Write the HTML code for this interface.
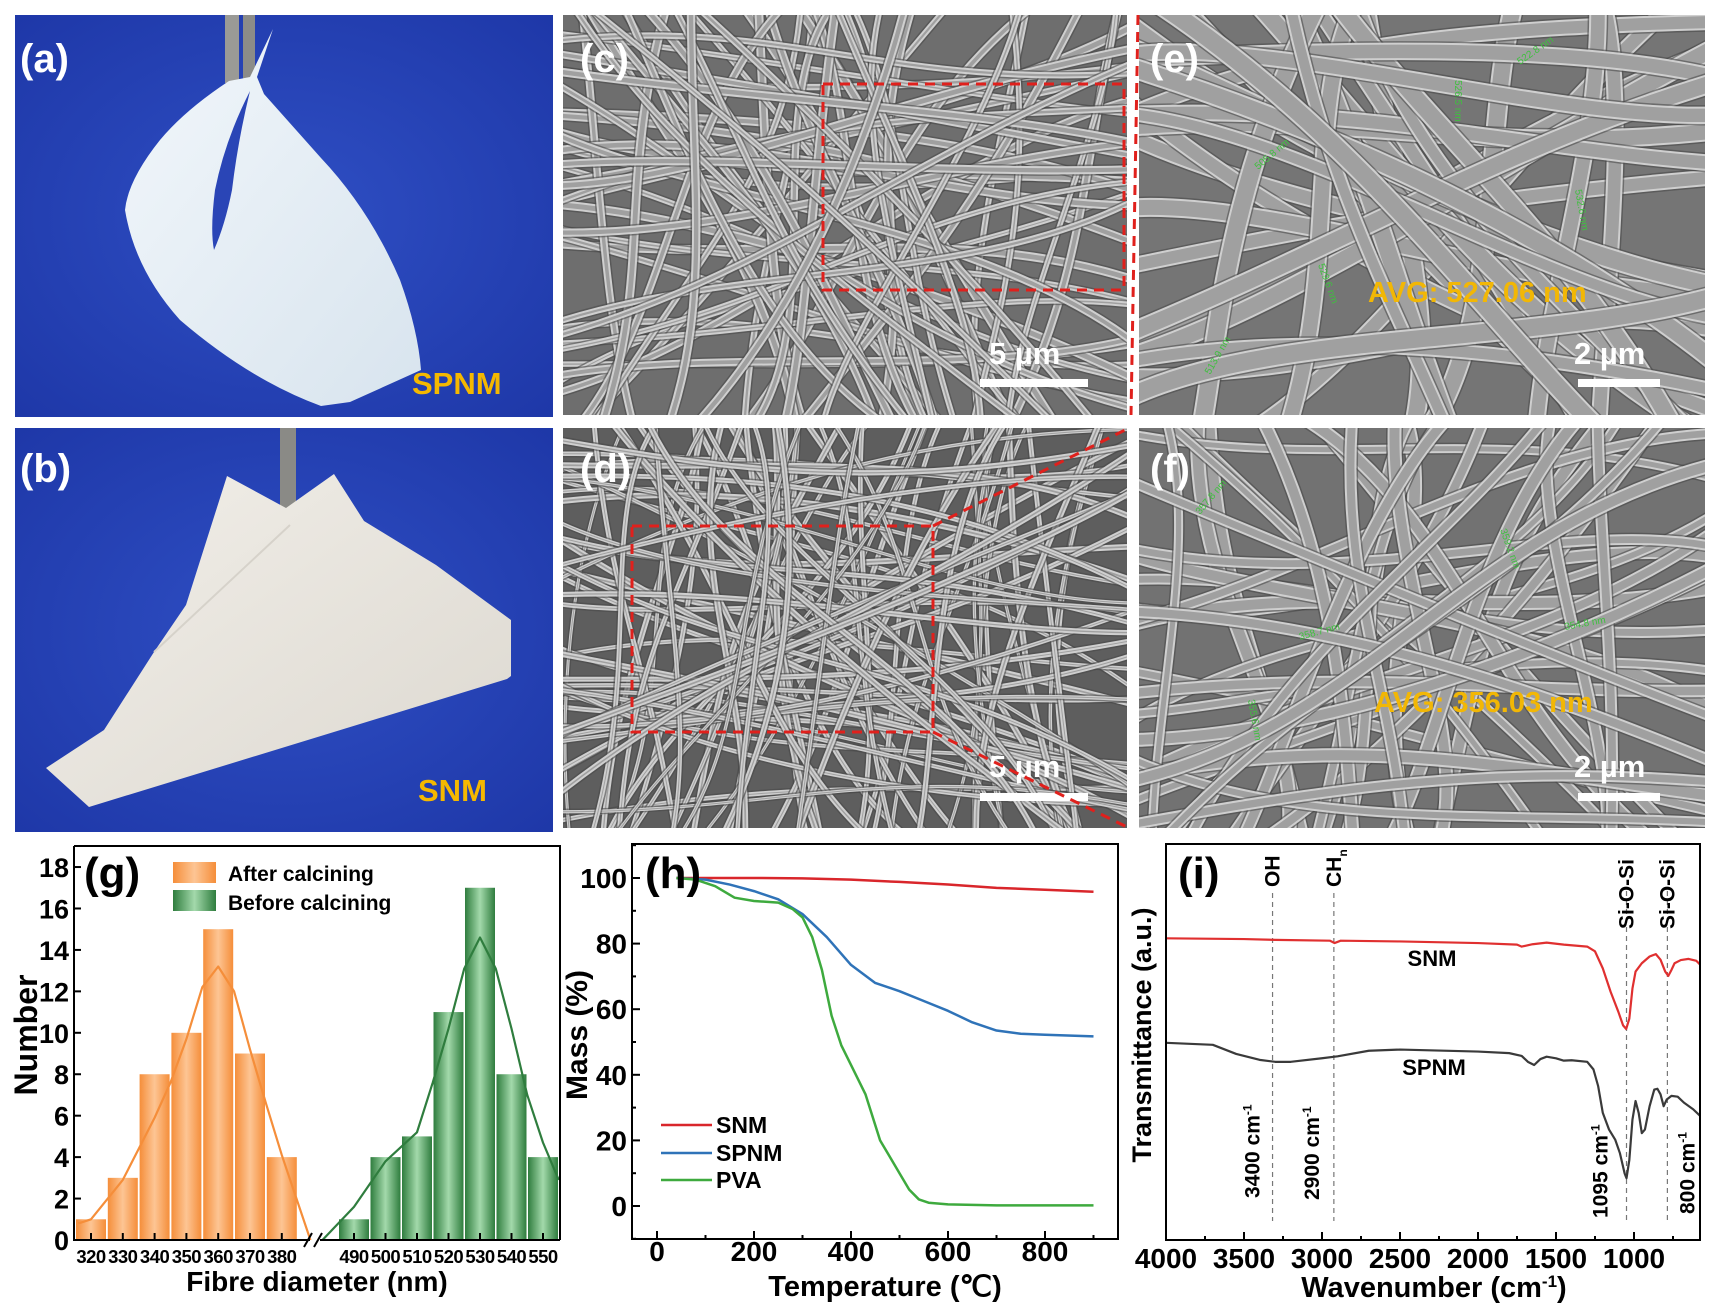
<!DOCTYPE html>
<html><head><meta charset="utf-8"><style>
html,body{margin:0;padding:0;background:#fff;}
svg{display:block;font-family:"Liberation Sans",Arial,sans-serif;font-weight:bold;}
</style></head><body>
<svg id="fig" width="1723" height="1312" viewBox="0 0 1723 1312" xmlns="http://www.w3.org/2000/svg">
<defs>
<radialGradient id="blueA" cx="0.5" cy="0.5" r="0.75"><stop offset="0" stop-color="#2f4fc4"/><stop offset="1" stop-color="#1d36a6"/></radialGradient>
<linearGradient id="paperA" x1="0" y1="0" x2="1" y2="1"><stop offset="0" stop-color="#f2f7fb"/><stop offset="1" stop-color="#d8e4ee"/></linearGradient>
<linearGradient id="paperB" x1="0" y1="0" x2="1" y2="1"><stop offset="0" stop-color="#f2efe9"/><stop offset="1" stop-color="#dcd8d0"/></linearGradient>
<linearGradient id="orangeBar" x1="0" y1="0" x2="1" y2="0"><stop offset="0" stop-color="#f58e3a"/><stop offset="0.5" stop-color="#fdc594"/><stop offset="1" stop-color="#f58e3a"/></linearGradient>
<linearGradient id="greenBar" x1="0" y1="0" x2="1" y2="0"><stop offset="0" stop-color="#2f7d3e"/><stop offset="0.5" stop-color="#a3d9ab"/><stop offset="1" stop-color="#2f7d3e"/></linearGradient>
<clipPath id="clipC"><rect x="563" y="15" width="564" height="400"/></clipPath>
<clipPath id="clipE"><rect x="1139" y="15" width="566" height="400"/></clipPath>
<clipPath id="clipD"><rect x="563" y="428" width="564" height="400"/></clipPath>
<clipPath id="clipF"><rect x="1139" y="428" width="566" height="400"/></clipPath>
</defs>

<g>
<rect x="15" y="15" width="538" height="402" fill="url(#blueA)"/>
<rect x="225" y="15" width="14" height="68" fill="#9a9a96"/><rect x="243" y="15" width="12" height="66" fill="#8c8c88"/>
<path d="M273,29 L250,77 L229,81 Q185,110 160,140 Q128,180 125,210 Q135,270 180,320 Q250,380 321,406 L350,402 L421,370 Q418,330 400,280 Q370,210 321,158 L264,94 L257,77 Z" fill="url(#paperA)"/>
<path d="M250,91 Q225,140 215,190 Q210,230 214,250 Q225,225 232,190 Q238,140 250,91 Z" fill="#2a45b6"/>
<text x="20" y="72" font-size="40" fill="#fff">(a)</text>
<text x="412" y="394" font-size="31" fill="#f5b800">SPNM</text>
</g>
<g>
<rect x="15" y="428" width="538" height="404" fill="url(#blueA)"/>
<rect x="280" y="428" width="16" height="100" fill="#8a8a86"/>
<path d="M227,476 L286,508 L334,474 L364,521 L436,565 L511,620 L511,676 L507,679 L89,807 L46,768 L104,730 L154,652 L186,605 Z" fill="url(#paperB)"/>
<path d="M290,525 L154,652" stroke="#d6d2ca" stroke-width="2" fill="none"/>
<text x="20" y="482" font-size="40" fill="#fff">(b)</text>
<text x="418" y="801" font-size="31" fill="#f5b800">SNM</text>
</g>

<g id="semC" clip-path="url(#clipC)"><rect x="563" y="15" width="564" height="400" fill="#6e6e6e"/></g>
<g id="semE" clip-path="url(#clipE)"><rect x="1139" y="15" width="566" height="400" fill="#757575"/></g>
<g id="semD" clip-path="url(#clipD)"><rect x="563" y="428" width="564" height="400" fill="#5e5e5e"/></g>
<g id="semF" clip-path="url(#clipF)"><rect x="1139" y="428" width="566" height="400" fill="#727272"/></g>

<g id="annot">
<text x="580" y="72" font-size="40" fill="#fff">(c)</text>
<text x="1150" y="72" font-size="40" fill="#fff">(e)</text>
<text x="580" y="482" font-size="40" fill="#fff">(d)</text>
<text x="1150" y="482" font-size="40" fill="#fff">(f)</text>
<text x="989" y="364" font-size="31" fill="#fff">5 µm</text><rect x="980" y="379" width="108" height="8" fill="#fff"/>
<text x="1574" y="364" font-size="31" fill="#fff">2 µm</text><rect x="1578" y="379" width="82" height="8" fill="#fff"/>
<text x="989" y="777" font-size="31" fill="#fff">5 µm</text><rect x="980" y="793" width="108" height="8" fill="#fff"/>
<text x="1574" y="777" font-size="31" fill="#fff">2 µm</text><rect x="1578" y="793" width="82" height="8" fill="#fff"/>
<text x="1368" y="302" font-size="29" fill="#f2b705">AVG: 527.06 nm</text>
<text x="1374" y="712" font-size="29" fill="#f2b705">AVG: 356.03 nm</text>
<g font-size="10" fill="#3fc03f" font-weight="normal">
<text transform="translate(1258,170) rotate(-40)">505.8 nm</text>
<text transform="translate(1455,80) rotate(90)">526.5 nm</text>
<text transform="translate(1520,65) rotate(-35)">522.8 nm</text>
<text transform="translate(1575,190) rotate(80)">532.6 nm</text>
<text transform="translate(1318,265) rotate(70)">529.6 nm</text>
<text transform="translate(1210,375) rotate(-60)">513.9 nm</text>
<text transform="translate(1200,515) rotate(-50)">357.8 nm</text>
<text transform="translate(1500,530) rotate(70)">359.2 nm</text>
<text transform="translate(1565,630) rotate(-10)">354.8 nm</text>
<text transform="translate(1300,640) rotate(-15)">358.7 nm</text>
<text transform="translate(1248,700) rotate(80)">355.6 nm</text>
</g>
<g stroke="#e0201c" stroke-width="3" stroke-dasharray="10,7" fill="none">
<rect x="823" y="84" width="301" height="206"/>
<line x1="1138" y1="15" x2="1131" y2="415"/>
<rect x="632" y="526" width="301" height="206"/>
<line x1="933" y1="526" x2="1129" y2="428"/>
<line x1="933" y1="732" x2="1129" y2="828"/>
</g>
</g>

<g id="chartG"></g>
<g id="chartH"></g>
<g id="chartI"></g>
</svg>
<script>
// ---------- chart g data ----------
const gAfterCats = [320,330,340,350,360,370,380];
const gAfterVals = [1,3,8,10,15,9,4];
const gBeforeCats = [490,500,510,520,530,540,550];
const gBeforeVals = [1,4,5,11,17,8,4];
const gAfterFitX = [316,320,330,340,345,350,355,360,365,370,375,380,389];
const gAfterFitY = [0.8,1.0,2.9,5.9,7.6,9.7,12.2,13.2,12.0,9.2,6.6,4.1,0];
const gBeforeFitX = [480,490,500,510,515,520,525,530,535,540,545,550,555];
const gBeforeFitY = [0,1.6,3.8,5.2,7.6,10.2,13.1,14.6,13.1,10.2,7.0,4.7,2.9];
const gYTicks = [0,2,4,6,8,10,12,14,16,18];
// ---------- chart h data ----------
const hSNMx = [40,100,200,300,400,500,600,700,800,900];
const hSNMy = [100,100,100,99.9,99.5,98.8,98,97,96.4,95.8];
const hSPNMx = [40,100,150,200,250,300,350,400,450,500,550,600,650,700,750,800,900];
const hSPNMy = [100,99.5,98,96,93.5,89,82,73.5,68,65.5,62.5,59.5,56,53.5,52.5,52.2,51.7];
const hPVAx = [40,80,120,160,200,250,280,300,320,340,360,380,400,430,460,480,500,520,540,560,600,700,900];
const hPVAy = [100,99.5,97.5,94,93,92.5,90.5,88,82,72,58,49,43,34,20,15,10,5,2,1,0.5,0.2,0.2];
const hXTicks = [0,200,400,600,800];
const hYTicks = [0,20,40,60,80,100];
// ---------- chart i data ----------
const iSNMx = [4000,3500,3300,2950,2920,2880,2500,2000,1750,1720,1650,1560,1450,1300,1250,1200,1150,1100,1070,1050,1030,1010,990,950,900,860,830,800,780,760,740,700,650,600,575];
const iSNMy = [77.2,77.0,76.8,76.6,76.0,76.6,76.4,76.0,75.6,75.1,75.7,76.1,75.6,75.1,73.9,69.6,63.7,58.6,55.2,54.3,56.9,64.5,68.8,70.9,72.6,73.2,71.8,68.8,67.7,69.2,70.9,71.7,72.0,71.5,70.5];
const iSPNMx = [4000,3700,3550,3400,3300,3200,3000,2900,2700,2500,2000,1800,1720,1680,1640,1600,1560,1500,1450,1400,1300,1260,1230,1200,1160,1120,1090,1060,1048,1030,1010,990,970,950,930,900,870,850,830,810,790,760,720,680,620,575];
const iSPNMy = [50.8,50.3,48.0,46.5,46.0,46.0,46.9,47.4,48.8,49.1,48.6,48.2,47.5,46.0,45.2,46.7,47.3,46.9,46.3,46.4,46.0,44.1,39.9,33.1,28.9,26.3,22.9,17.8,16.6,21.2,31.4,36.1,33.1,28.0,28.9,34.8,39.0,39.2,37.8,34.8,36.5,37.4,37.2,35.7,34.0,32.3];
const iXTicks = [4000,3500,3000,2500,2000,1500,1000];
const iMarkers = [3317,2924,1048,786];
const iMarkerTop = ["OH","CH","Si-O-Si","Si-O-Si"];
const iMarkerBottom = ["3400 cm","2900 cm","1095 cm","800 cm"];

const NS="http://www.w3.org/2000/svg";
function mk(parent,tag,attrs,text){const e=document.createElementNS(NS,tag);for(const k in attrs)e.setAttribute(k,attrs[k]);if(text!==undefined)e.textContent=text;parent.appendChild(e);return e;}

let seed=12345;function rnd(){seed=(seed*1103515245+12345)%2147483648;return seed/2147483648;}
function fibers(id,x0,y0,w,h,n,wmin,wmax){
  const g=document.getElementById(id);
  for(let i=0;i<n;i++){
    let ax,ay,bx,by;
    if(rnd()<0.5){ax=x0-20;ay=y0+rnd()*h;bx=x0+w+20;by=y0+rnd()*h;}else{ax=x0+rnd()*w;ay=y0-20;bx=x0+rnd()*w;by=y0+h+20;}
    const c1x=ax+(bx-ax)*0.33+(rnd()-0.5)*120,c1y=ay+(by-ay)*0.33+(rnd()-0.5)*120;
    const c2x=ax+(bx-ax)*0.66+(rnd()-0.5)*120,c2y=ay+(by-ay)*0.66+(rnd()-0.5)*120;
    const d=`M${ax},${ay} C${c1x},${c1y} ${c2x},${c2y} ${bx},${by}`;
    const sw=wmin+rnd()*(wmax-wmin);
    const p1=mk(g,'path',{d:d,stroke:'#4a4a4a',"stroke-width":sw+3,fill:'none',opacity:0.6});
    
    
    const p2=mk(g,'path',{d:d,stroke:'#cfcfcf',"stroke-width":sw,fill:'none'});
    
    
    const p3=mk(g,'path',{d:d,stroke:'#a0a0a0',"stroke-width":Math.max(1,sw-4),fill:'none'});
    
    
  }
}
fibers('semC',563,15,564,400,70,5,9);
fibers('semD',563,428,564,400,95,3,6);
fibers('semE',1139,15,566,400,34,14,22);
fibers('semF',1139,428,566,400,44,9,15);

// ---------- chart g ----------
(function(){
  const g=document.getElementById('chartG');
  const L=74,R=560,T=846,B=1240;
  const xG=d=> d<450 ? 91+(d-320)*3.18 : 354+(d-490)*3.15;
  const yG=v=> B - v*20.72;
  const bw=30;
  gAfterCats.forEach((c,i)=>{const r=mk(g,'rect',{x:xG(c)-bw/2,y:yG(gAfterVals[i]),width:bw,height:B-yG(gAfterVals[i]),fill:'url(#orangeBar)'});
    
    });
  gBeforeCats.forEach((c,i)=>{const r=mk(g,'rect',{x:xG(c)-bw/2,y:yG(gBeforeVals[i]),width:bw,height:B-yG(gBeforeVals[i]),fill:'url(#greenBar)'});
    
    });
  const fa=mk(g,'polyline',{points:gAfterFitX.map((x,i)=>xG(x)+','+yG(gAfterFitY[i])).join(' '),fill:'none',stroke:'#f58e3a','stroke-width':2.2,'stroke-linejoin':'round'});
  
  
  const fb=mk(g,'polyline',{points:gBeforeFitX.map((x,i)=>xG(x)+','+yG(gBeforeFitY[i])).join(' '),fill:'none',stroke:'#2f7d3e','stroke-width':2.2,'stroke-linejoin':'round'});
  
  
  const fr=mk(g,'path',{d:`M${L},${T} H${R} V${B} M${L},${T} V${B} H310 M320,${B} H${R}`,fill:'none',stroke:'#000','stroke-width':2});
  
  
  const br=mk(g,'path',{d:`M304,${B+7} L312,${B-7} M314,${B+7} L322,${B-7}`,stroke:'#000','stroke-width':2});
  
  
  gYTicks.forEach(v=>{mk(g,'line',{x1:L,x2:L+7,y1:yG(v),y2:yG(v),stroke:'#000','stroke-width':2});
    const t=mk(g,'text',{x:L-5,y:yG(v)+10,'font-size':27,'text-anchor':'end'},v);
    
    });
  gAfterCats.concat(gBeforeCats).forEach(c=>{mk(g,'line',{x1:xG(c),x2:xG(c),y1:B,y2:B-7,stroke:'#000','stroke-width':2});
    const t=mk(g,'text',{x:xG(c),y:1263,'font-size':18.5,'text-anchor':'middle','letter-spacing':'-0.5'},c);
    
    });
  const xt=mk(g,'text',{x:317,y:1291,'font-size':28,'text-anchor':'middle'},'Fibre diameter (nm)');
  
  
  const yt=mk(g,'text',{x:0,y:0,'font-size':32,'text-anchor':'middle',transform:'translate(37,1035) rotate(-90)'},'Number');
  
  
  const pl=mk(g,'text',{x:84,y:888,'font-size':44},'(g)');
  
  
  mk(g,'rect',{x:173,y:862,width:43,height:21,fill:'url(#orangeBar)'});
  mk(g,'rect',{x:173,y:890,width:43,height:21,fill:'url(#greenBar)'});
  const l1=mk(g,'text',{x:228,y:881,'font-size':21},'After calcining');
  
  
  const l2=mk(g,'text',{x:228,y:910,'font-size':21},'Before calcining');
  
  
})();

// ---------- chart h ----------
(function(){
  const g=document.getElementById('chartH');
  const L=632,R=1118,T=844,B=1239;
  const xH=v=>657+v*0.485;
  const yH=v=>1206-v*3.28;
  [[hSNMx,hSNMy,'#d9262b','line-snm'],[hSPNMx,hSPNMy,'#2f73b8','line-spnm'],[hPVAx,hPVAy,'#3eaa3e','line-pva']].forEach(s=>{
    const p=mk(g,'polyline',{points:s[0].map((x,i)=>xH(x)+','+yH(s[1][i])).join(' '),fill:'none',stroke:s[2],'stroke-width':2.5,'stroke-linejoin':'round'});
    
    
  });
  const fr=mk(g,'rect',{x:L,y:T,width:R-L,height:B-T,fill:'none',stroke:'#000','stroke-width':2});
  
  
  for(let v=0;v<=900;v+=100){mk(g,'line',{x1:xH(v),x2:xH(v),y1:B,y2:B-(v%200===0?8:4),stroke:'#000','stroke-width':2});}
  for(let v=-10;v<=110;v+=10){mk(g,'line',{x1:L,x2:L+(v%20===0?8:4),y1:yH(v),y2:yH(v),stroke:'#000','stroke-width':2});}
  hXTicks.forEach(v=>{const t=mk(g,'text',{x:xH(v),y:1261,'font-size':28,'text-anchor':'middle'},v);
    
    });
  hYTicks.forEach(v=>{const t=mk(g,'text',{x:L-5,y:yH(v)+10,'font-size':28,'text-anchor':'end'},v);
    
    });
  const xt=mk(g,'text',{x:885,y:1296,'font-size':29,'text-anchor':'middle'},'Temperature (℃)');
  
  
  const yt=mk(g,'text',{x:0,y:0,'font-size':30,'text-anchor':'middle',transform:'translate(587,1035) rotate(-90)'},'Mass (%)');
  
  
  const pl=mk(g,'text',{x:645,y:888,'font-size':44},'(h)');
  
  
  [['SNM','#d9262b',1125],['SPNM','#2f73b8',1153],['PVA','#3eaa3e',1180]].forEach(s=>{
    mk(g,'line',{x1:661,x2:712,y1:s[2],y2:s[2],stroke:s[1],'stroke-width':2.5});
    const t=mk(g,'text',{x:716,y:s[2]+8,'font-size':23},s[0]);
    
    
  });
})();

// ---------- chart i ----------
(function(){
  const g=document.getElementById('chartI');
  const L=1166,R=1700,T=844,B=1240;
  const xI=w=>1166+(4000-w)*0.156;
  const yI=v=>B-v*3.96+4;
  iMarkers.forEach((w,i)=>{const l=mk(g,'line',{x1:xI(w),x2:xI(w),y1:i<2?893:891,y2:1221,stroke:'#777','stroke-width':1.2,'stroke-dasharray':'5,4'});
    
    });
  [[iSNMx,iSNMy,'#e03030','line-snm'],[iSPNMx,iSPNMy,'#3a3a3a','line-spnm']].forEach(s=>{
    const p=mk(g,'polyline',{points:s[0].map((x,i)=>xI(x)+','+yI(s[1][i])).join(' '),fill:'none',stroke:s[2],'stroke-width':2.2,'stroke-linejoin':'round'});
    
    
  });
  const fr=mk(g,'rect',{x:L,y:T,width:R-L,height:B-T,fill:'none',stroke:'#000','stroke-width':2});
  
  
  for(let w=4000;w>=750;w-=250){mk(g,'line',{x1:xI(w),x2:xI(w),y1:B,y2:B-(w%500===0?8:4),stroke:'#000','stroke-width':2});}
  iXTicks.forEach(w=>{const t=mk(g,'text',{x:xI(w),y:1268,'font-size':28,'text-anchor':'middle'},w);
    
    });
  const xt=mk(g,'text',{x:1434,y:1297,'font-size':29,'text-anchor':'middle'},'Wavenumber (cm');
  
  
  const sup=document.createElementNS(NS,'tspan');sup.setAttribute('dy','-10');sup.setAttribute('font-size','17');sup.textContent='-1';xt.appendChild(sup);
  const cl=document.createElementNS(NS,'tspan');cl.setAttribute('dy','10');cl.textContent=')';xt.appendChild(cl);
  const yt=mk(g,'text',{x:0,y:0,'font-size':27,'text-anchor':'middle',transform:'translate(1151,1035) rotate(-90)'},'Transmittance (a.u.)');
  
  
  const pl=mk(g,'text',{x:1178,y:888,'font-size':44},'(i)');
  
  
  iMarkers.forEach((w,i)=>{
    const t=mk(g,'text',{x:0,y:0,'font-size':21,transform:`translate(${xI(w)+7},${i<2?887:929}) rotate(-90)`},iMarkerTop[i]);
    if(i===1){const s=document.createElementNS(NS,'tspan');s.setAttribute('dy','6');s.setAttribute('font-size','12');s.textContent='n';t.appendChild(s);}
    
    
    const off=[-20,-22,-26,20][i];
    const bottoms=[1198,1200,1218,1214];
    const b=mk(g,'text',{x:0,y:0,'font-size':21,transform:`translate(${xI(w)+off+7},${bottoms[i]}) rotate(-90)`},iMarkerBottom[i]);
    const s2=document.createElementNS(NS,'tspan');s2.setAttribute('dy','-8');s2.setAttribute('font-size','12');s2.textContent='-1';b.appendChild(s2);
    
    
  });
  const s1=mk(g,'text',{x:1432,y:966,'font-size':22,'text-anchor':'middle'},'SNM');
  
  
  const s2=mk(g,'text',{x:1434,y:1075,'font-size':22,'text-anchor':'middle'},'SPNM');
  
  
})();
</script>
</body></html>
